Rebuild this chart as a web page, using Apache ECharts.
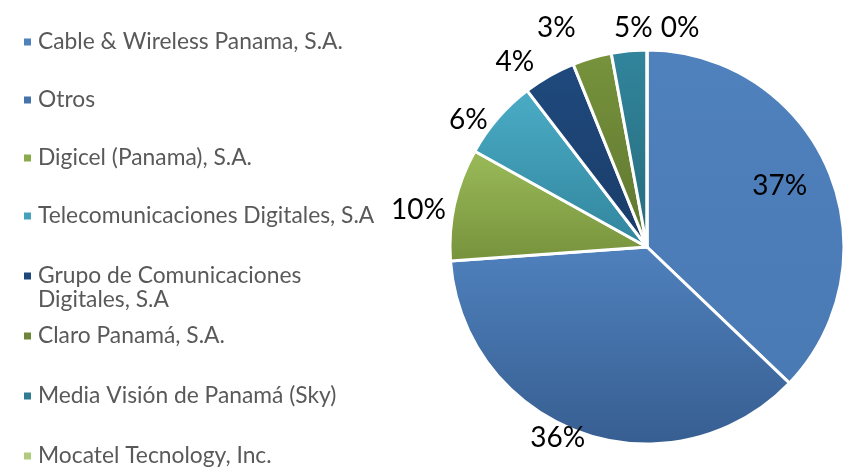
<!DOCTYPE html>
<html>
<head>
<meta charset="utf-8">
<script src="https://cdn.jsdelivr.net/npm/echarts@6/dist/echarts.min.js"></script>
<style>
html,body{margin:0;padding:0;background:#fff;}
#chart{width:846px;height:468px;}
</style>
</head>
<body>
<div id="chart"></div>
<script>
// Data
var categories = [
  'Cable & Wireless Panama, S.A.',
  'Otros',
  'Digicel (Panama), S.A.',
  'Telecomunicaciones Digitales, S.A',
  'Grupo de Comunicaciones\nDigitales, S.A',
  'Claro Panamá, S.A.',
  'Media Visión de Panamá (Sky)',
  'Mocatel Tecnology, Inc.'
];
// slice sizes (share, %)
var shares = [37.1, 36.7, 9.2, 6.5, 4.3, 3.2, 2.9, 0];
// data labels as printed on the chart
var pctLabels = ['37%', '36%', '10%', '6%', '4%', '3%', '5%', '0%'];

var topColors = ['#4F81BD', '#4F81BD', '#9BBB59', '#4BACC6', '#1F497D', '#77933C', '#31859C', '#B3CC7F'];
var bottomColors = ['#4A7AB4', '#375E91', '#76923C', '#31859C', '#1A3D69', '#5F7630', '#276B7D', '#9BBB59'];
var legendColors = ['#4F81BD', '#4573AC', '#8AAA4C', '#45A2BA', '#1F497D', '#6A8636', '#2E7D92', '#AFCB7C'];

function grad(i) {
  return new echarts.graphic.LinearGradient(0, 0, 0, 1, [
    {offset: 0, color: topColors[i]},
    {offset: 1, color: bottomColors[i]}
  ]);
}

var pieData = categories.map(function (name, i) {
  return {name: name, value: shares[i], itemStyle: {color: grad(i)}};
});

// transparent ring used only to place the percentage labels
var labelOffsets = [[-77, 28], [-12, -25], [-6, 11], [-6, 21], [-19, 12], [-27, -1], [7, 7], [33, 8]];
var labelData = categories.map(function (name, i) {
  return {
    name: name,
    value: shares[i],
    label: {offset: labelOffsets[i]}
  };
});

var legendTops = [30, 88, 146, 204, 264, 324, 384, 444];
var legends = categories.map(function (name, i) {
  var twoLine = name.indexOf('\n') >= 0;
  return {
    orient: 'vertical',
    left: 24,
    top: legendTops[i],
    padding: 0,
    itemWidth: 7,
    itemHeight: twoLine ? 31 : 7,
    itemGap: 0,
    icon: twoLine ? 'path://M0,0H7V7H0Z M0,31H7' : 'rect',
    selectedMode: false,
    itemStyle: {borderWidth: 0},
    data: [{name: name, itemStyle: {color: legendColors[i], borderWidth: 0}}],
    textStyle: {color: '#595959', fontSize: 22.8, fontFamily: 'Lato', lineHeight: 24, padding: [0, 0, 0, 2]}
  };
});

var chart = echarts.init(document.getElementById('chart'), null, {renderer: 'canvas'});
chart.setOption({
  animation: false,
  backgroundColor: '#fff',
  legend: legends,
  series: [
    {
      type: 'pie',
      center: [647, 247],
      radius: [0, 197],
      startAngle: 90,
      clockwise: true,
      avoidLabelOverlap: false,
      label: {show: false},
      labelLine: {show: false},
      itemStyle: {borderColor: '#fff', borderWidth: 3},
      emphasis: {disabled: true},
      data: pieData
    },
    {
      type: 'pie',
      center: [647, 248],
      radius: [200, 250],
      startAngle: 90,
      clockwise: true,
      silent: true,
      avoidLabelOverlap: false,
      legendHoverLink: false,
      itemStyle: {color: 'rgba(0,0,0,0)'},
      labelLine: {show: false},
      label: {
        show: true,
        position: 'inside',
        color: '#000',
        fontSize: 28,
        fontFamily: 'Lato',
        formatter: function (p) { return pctLabels[p.dataIndex]; }
      },
      emphasis: {disabled: true},
      data: labelData
    }
  ]
});
</script>
</body>
</html>
